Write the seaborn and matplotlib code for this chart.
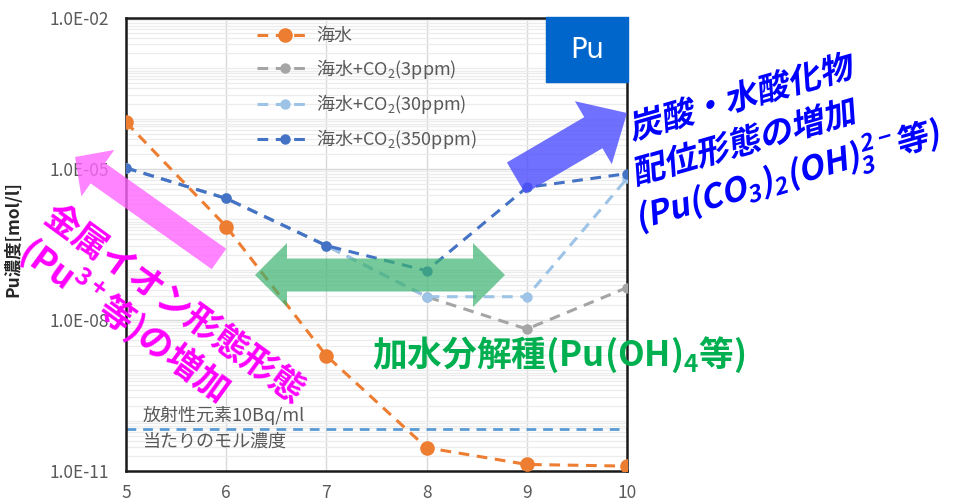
import numpy as np
import pandas as pd
import seaborn as sns
import matplotlib.pyplot as plt
import matplotlib.patches as mpatches
from matplotlib.transforms import Affine2D
from matplotlib.textpath import TextPath
from matplotlib.font_manager import FontProperties
from matplotlib.ticker import FixedLocator, LogLocator, FuncFormatter, NullFormatter

# pH and Pu concentration [mol/l]
ph = [5, 6, 7, 8, 9, 10]
seawater = [8.5e-5, 7.2e-7, 1.95e-9, 2.9e-11, 1.35e-11, 1.25e-11]
co2_3ppm = [1.05e-5, 2.6e-6, 3.0e-7, 2.9e-8, 6.6e-9, 4.4e-8]
co2_30ppm = [1.05e-5, 2.6e-6, 3.0e-7, 2.9e-8, 2.9e-8, 6.5e-6]
co2_350ppm = [1.05e-5, 2.6e-6, 3.0e-7, 9.5e-8, 4.3e-6, 8.1e-6]
bq_level = 6.8e-11   # 10Bq/ml molar concentration

labels = ['海水', '海水+CO$_2$(3ppm)', '海水+CO$_2$(30ppm)', '海水+CO$_2$(350ppm)']
colors = ['#ed7d31', '#a5a5a5', '#9dc3e6', '#4472c4']
msizes = [10.5, 7.5, 7.5, 7.5]
yticks = [1e-11, 1e-8, 1e-5, 1e-2]

sns.set_theme(style='white')
plt.rcParams['font.family'] = ['Noto Sans CJK JP', 'DejaVu Sans']
plt.rcParams['mathtext.default'] = 'regular'

W, H = 958, 504
fig = plt.figure(figsize=(W / 100, H / 100), dpi=100)
ax = fig.add_axes([126 / W, 33 / H, 501 / W, 453 / H])

# pixel transforms of the reference picture (y down / y up)
px = Affine2D().scale(1 / W, -1 / H).translate(0, 1) + fig.transFigure
pxu = Affine2D().scale(1 / W, 1 / H) + fig.transFigure

series = [seawater, co2_3ppm, co2_30ppm, co2_350ppm]
zorders = [6, 3, 4, 5]
for vals, lab, col, ms, z in zip(series, labels, colors, msizes, zorders):
    df = pd.DataFrame({'pH': ph, 'conc': vals})
    sns.lineplot(data=df, x='pH', y='conc', ax=ax, color=col, marker='o',
                 markersize=ms, markeredgewidth=0, linestyle='--', linewidth=2.2,
                 dashes=False, label=lab, zorder=z)
for l in ax.get_lines():
    l.set_dashes([3.5, 2.5])

ax.axhline(bq_level, color='#5b9bd5', lw=2, dashes=[3.5, 2.5], zorder=2)

ax.set_yscale('log')
ax.set_ylim(1e-11, 1e-2)
ax.set_xlim(5, 10)
ax.yaxis.set_major_locator(FixedLocator(yticks))
ax.yaxis.set_major_formatter(FuncFormatter(lambda v, p: f'{v:.1E}'))
ax.yaxis.set_minor_locator(LogLocator(base=10, subs=np.arange(1, 10), numticks=50))
ax.yaxis.set_minor_formatter(NullFormatter())
ax.set_xticks(ph)
ax.grid(True, which='major', color='#d9d9d9', lw=1)
ax.grid(True, which='minor', axis='y', color='#ececec', lw=0.9)
ax.tick_params(which='both', length=0, labelsize=12.5, labelcolor='#595959')
ax.tick_params(axis='x', pad=9)
ax.tick_params(axis='y', pad=12)
for s in ax.spines.values():
    s.set_color('#1a1a1a')
    s.set_linewidth(1.8)
ax.set_xlabel('')
ax.set_ylabel('Pu濃度[mol/l]', fontsize=12.5, fontweight='bold', color='#262626')
ax.yaxis.set_label_coords(-0.2076, 0.513)

leg = ax.legend(loc='upper left', bbox_to_anchor=(0.23, 1.015), frameon=False,
                fontsize=13, handlelength=3, labelspacing=0.62, handletextpad=0.25)
for t in leg.get_texts():
    t.set_color('#595959')

ax.text(143, 415, '放射性元素10Bq/ml', transform=px, fontsize=13, color='#595959', va='center')
ax.text(143, 442, '当たりのモル濃度', transform=px, fontsize=13, color='#595959', va='center')

# Pu box
ax.add_patch(mpatches.Rectangle((546, 17), 82, 65, transform=px, color='#0066cc',
                                zorder=8, clip_on=False))
ax.text(587, 50, 'Pu', transform=px, color='white', fontsize=20, ha='center',
        va='center', family='DejaVu Sans', zorder=9)

# arrows
fig.patches.append(mpatches.FancyArrow(219, 259, -144, -102, width=25, head_width=57,
                                       head_length=28, length_includes_head=True,
                                       transform=px, color='#ff66ff', alpha=0.8, lw=0))
fig.patches.append(mpatches.FancyArrow(516, 178, 111, -65, width=36, head_width=73,
                                       head_length=39, length_includes_head=True,
                                       transform=px, color='#4d4dff', alpha=0.8, lw=0))
cx, cy, L, bh, hh, hl = 380, 275, 125, 16.5, 32, 32
verts = [(cx - L, cy), (cx - L + hl, cy - hh), (cx - L + hl, cy - bh), (cx + L - hl, cy - bh),
         (cx + L - hl, cy - hh), (cx + L, cy), (cx + L - hl, cy + hh), (cx + L - hl, cy + bh),
         (cx - L + hl, cy + bh), (cx - L + hl, cy + hh)]
fig.patches.append(mpatches.Polygon(verts, closed=True, transform=px, color='#3cb371',
                                    alpha=0.7, lw=0))

# annotation texts
fig.text(58, 198, '金属イオン形態形態\n(Pu$^{3+}$等)の増加', transform=px, color='#ff00ff',
         fontsize=25, fontweight='bold', rotation=-36, rotation_mode='anchor',
         ha='left', va='top', linespacing=1.1)
fig.text(372, 355, '加水分解種(Pu(OH)$_4$等)', transform=px, color='#00b050',
         fontsize=25, fontweight='bold', ha='left', va='center')

fp = FontProperties(family='Noto Sans CJK JP', weight='bold')
blue_lines = ['炭酸・水酸化物', '配位形態の増加', '(Pu(CO$_3$)$_2$(OH)$_3^{2-}$等)']
for i, line in enumerate(blue_lines):
    tp = TextPath((0, -i * 44), line, size=33, prop=fp)
    tr = Affine2D().skew_deg(12, 0).rotate_deg(16).translate(632, H - 140) + pxu
    fig.patches.append(mpatches.PathPatch(tp, transform=tr, color='#0000ff', lw=0))

fig.savefig('out.png', dpi=100)
